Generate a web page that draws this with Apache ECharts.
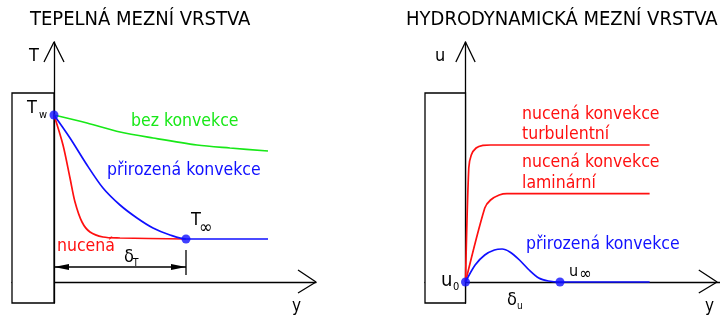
<!DOCTYPE html>
<html><head><meta charset="utf-8">
<script src="https://cdn.jsdelivr.net/npm/echarts@6/dist/echarts.min.js"></script>
<style>html,body{margin:0;padding:0;background:#fff}#c{width:720px;height:315px}</style>
</head><body><div id="c"></div>
<script>
// ---------- DATA (diagram units: wall surface at y = 0) ----------
// Left panel: thermal boundary layer  T(y)
const tWall = 8.35;            // T_w
const tInf = 2.15;             // T_inf
const deltaT = 6.6;            // thermal boundary layer thickness
const noConvX = [0, 1.65, 3.3, 4.95, 7.15, 8.8, 10.7];
const noConvT = [8.35, 7.95, 7.5, 7.2, 6.85, 6.7, 6.55];
const freeX = [0, 0.8, 1.65, 2.45, 3.3, 4.15, 4.95, 5.8, 6.6, 10.7];
const freeT = [8.35, 7.2, 5.85, 4.7, 3.85, 3.2, 2.7, 2.35, 2.15, 2.15];
const forcedX = [0, 0.45, 0.8, 1.05, 1.4, 1.8, 2.45, 3.3, 6.6];
const forcedT = [8.35, 6.85, 5.2, 4.0, 3.0, 2.5, 2.25, 2.2, 2.15];
// Right panel: hydrodynamic boundary layer  u(y)
const u0 = 0;
const uInfX = 4.9;
const turbX = [0, 0.17, 0.3, 0.55, 0.9, 1.3, 9.55];
const turbU = [0, 5.7, 6.35, 6.7, 6.83, 6.85, 6.85];
const lamX = [0, 1.0, 1.3, 1.75, 2.15, 9.55];
const lamU = [0, 3.7, 4.1, 4.35, 4.42, 4.42];
const natX = [0, 0.5, 1.0, 1.5, 1.9, 2.3, 2.8, 3.3, 3.8, 4.3, 4.9, 9.55];
const natU = [0, 0.85, 1.35, 1.6, 1.65, 1.5, 1.1, 0.6, 0.2, 0.05, 0, 0];
// Diagram frame (wall + axes)
const wallLeft = -2.1, wallTop = 9.45, wallBottom = -1.05;
const yTop = 12;
const xEndL = 13.1, xEndR = 13.2;
const arrowUp = [[-0.5, 11], [0, 12], [0.5, 11]];
const arrowRightL = [[12.2, 0.6], [13.1, 0], [12.2, -0.55]];
const arrowRightR = [[12.1, 0.6], [13.05, 0], [12.1, -0.55]];
const dimY = 0.75, dimTickTop = 1.6, dimTickBottom = 0.35;

// ---------- CHART ----------
const zip = (xs, ys) => xs.map((x, i) => [x, ys[i]]);
const FONT = "'DejaVu Sans Condensed','Liberation Sans Narrow','DejaVu Sans',sans-serif";
const RED = '#ff1010', BLUE = '#1010ff', GREEN = '#18e818';
const chart = echarts.init(document.getElementById('c'));

function axes(g, xmax) {
  return {
    x: { gridIndex: g, type: 'value', min: wallLeft, max: xmax,
      axisLine: { show: true, onZero: true, lineStyle: { color: '#000', width: 1.3 } },
      axisTick: { show: false }, axisLabel: { show: false }, splitLine: { show: false } },
    y: { gridIndex: g, type: 'value', min: wallBottom, max: yTop,
      axisLine: { show: true, onZero: true, lineStyle: { color: '#000', width: 1.3 } },
      axisTick: { show: false }, axisLabel: { show: false }, splitLine: { show: false } }
  };
}
const aL = axes(0, xEndL), aR = axes(1, xEndR);

function curve(g, data, color, z) {
  return { type: 'line', xAxisIndex: g, yAxisIndex: g, data, showSymbol: false, symbol: 'none',
    smooth: 0.3, lineStyle: { color, width: 1.7 }, z: z || 3, silent: true, animation: false };
}
function poly(g, data) {
  return { type: 'line', xAxisIndex: g, yAxisIndex: g, data, symbol: 'none', clip: false,
    lineStyle: { color: '#000', width: 1.3 }, z: 2, silent: true, animation: false };
}
function wall(g) {
  return { type: 'custom', xAxisIndex: g, yAxisIndex: g, data: [[0, 0]], z: 1, silent: true,
    renderItem: (p, api) => {
      const a = api.coord([wallLeft, wallTop]), b = api.coord([0, wallBottom]);
      return { type: 'rect', shape: { x: a[0], y: a[1], width: b[0] - a[0], height: b[1] - a[1] },
        style: { fill: '#fff', stroke: '#000', lineWidth: 1.3 } };
    } };
}
function dots(g, data) {
  return { type: 'scatter', xAxisIndex: g, yAxisIndex: g, data, symbol: 'circle', symbolSize: 9,
    itemStyle: { color: BLUE }, z: 5, silent: true, animation: false };
}
const dimension = { type: 'custom', xAxisIndex: 0, yAxisIndex: 0, data: [[0, dimY]], z: 2, silent: true,
  renderItem: (p, api) => {
    const a = api.coord([0, dimY]), b = api.coord([deltaT, dimY]);
    const t1 = api.coord([deltaT, dimTickTop]), t2 = api.coord([deltaT, dimTickBottom]);
    const L = 15, W = 3;
    return { type: 'group', children: [
      { type: 'line', shape: { x1: a[0], y1: a[1], x2: b[0], y2: b[1] }, style: { stroke: '#000', lineWidth: 1.3 } },
      { type: 'line', shape: { x1: t1[0], y1: t1[1], x2: t2[0], y2: t2[1] }, style: { stroke: '#000', lineWidth: 1.3 } },
      { type: 'polygon', shape: { points: [[a[0], a[1]], [a[0] + L, a[1] - W], [a[0] + L, a[1] + W]] }, style: { fill: '#000' } },
      { type: 'polygon', shape: { points: [[b[0], b[1]], [b[0] - L, b[1] - W], [b[0] - L, b[1] + W]] }, style: { fill: '#000' } }
    ] };
  } };

function txt(text, x, y, size, color) {
  return { type: 'text', x, y, z: 100, silent: true,
    style: { text, fill: color || '#000', fontSize: size, fontFamily: FONT,
      textAlign: 'left', textVerticalAlign: 'middle', align: 'left', verticalAlign: 'middle' } };
}

chart.setOption({
  animation: false,
  backgroundColor: '#fff',
  grid: [
    { left: 12, top: 42, width: 304, height: 261 },
    { left: 425, top: 42, width: 306, height: 261 }
  ],
  xAxis: [aL.x, aR.x],
  yAxis: [aL.y, aR.y],
  series: [
    wall(0), wall(1),
    poly(0, arrowUp), poly(0, arrowRightL), poly(1, arrowUp), poly(1, arrowRightR),
    dimension,
    curve(0, zip(noConvX, noConvT), GREEN),
    curve(0, zip(forcedX, forcedT), RED, 3),
    curve(0, zip(freeX, freeT), BLUE, 4),
    curve(1, zip(turbX, turbU), RED),
    curve(1, zip(lamX, lamU), RED),
    curve(1, zip(natX, natU), BLUE, 4),
    dots(0, [[0, tWall], [deltaT, tInf]]),
    dots(1, [[0, u0], [uInfX, u0]])
  ],
  graphic: [
    txt('TEPELNÁ MEZNÍ VRSTVA', 30, 20, 20),
    txt('HYDRODYNAMICKÁ MEZNÍ VRSTVA', 406, 20, 20),
    txt('T', 29, 56, 18),
    txt('u', 435, 56, 18),
    txt('y', 292, 307, 17),
    txt('y', 705, 307, 17),
    txt('T', 27, 108, 18), txt('w', 39, 115, 11),
    txt('T', 191, 220, 18), txt('∞', 199, 228, 18),
    txt('δ', 124, 257, 18), txt('T', 133, 263, 10),
    txt('u', 441, 281, 20), txt('0', 453, 287, 11),
    txt('u', 569, 272, 16), txt('∞', 579, 275, 17),
    txt('δ', 507, 300, 18), txt('u', 517, 306, 10),
    txt('bez konvekce', 131, 121, 17.5, GREEN),
    txt('přirozená konvekce', 107, 170, 17.5, BLUE),
    txt('nucená', 57, 246, 17.5, RED),
    txt('nucená konvekce', 522, 114, 17.5, RED),
    txt('turbulentní', 522, 134, 17.5, RED),
    txt('nucená konvekce', 522, 162, 17.5, RED),
    txt('laminární', 522, 183, 17.5, RED),
    txt('přirozená konvekce', 526, 244, 17.5, BLUE)
  ]
});
</script></body></html>
